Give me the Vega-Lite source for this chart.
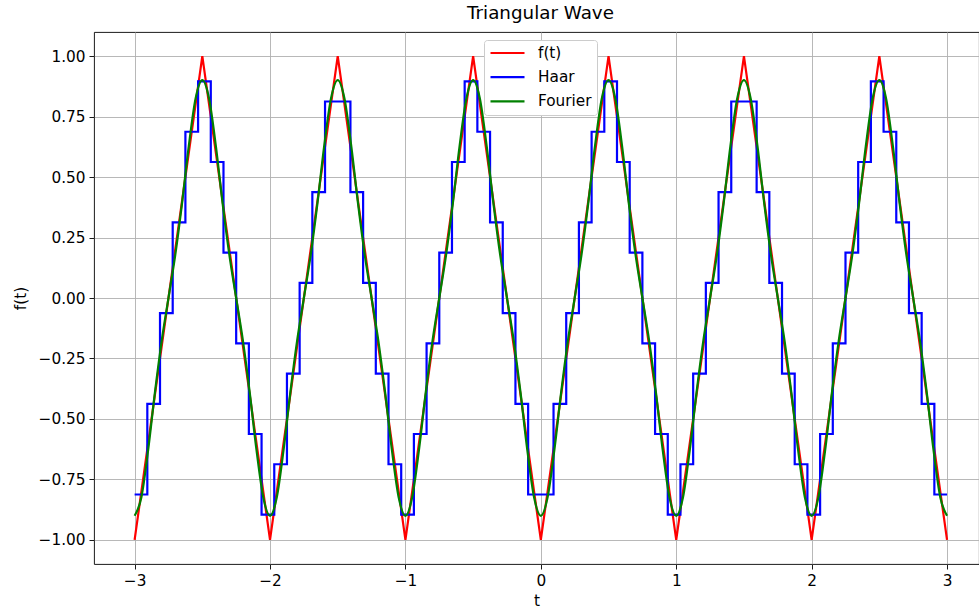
{
  "$schema": "https://vega.github.io/schema/vega-lite/v6.json",
  "autosize": {"type": "none"},
  "padding": {"left": 94, "top": 32, "right": 0, "bottom": 46},
  "width": 885,
  "height": 532,
  "background": "white",
  "title": {"text": "Triangular Wave", "font": "DejaVu Sans", "fontSize": 18.3, "fontWeight": "normal", "color": "black", "offset": 9, "dx": 4},
  "config": {
    "view": {"stroke": "black", "strokeWidth": 0.9},
    "axis": {"domain": false, "grid": true, "gridColor": "#b0b0b0", "gridWidth": 0.9, "tickColor": "black", "tickWidth": 0.9, "tickSize": 5, "labelFont": "DejaVu Sans", "labelFontSize": 15.3, "labelColor": "black", "labelPadding": 4, "titleFont": "DejaVu Sans", "titleFontSize": 15.3, "titleFontWeight": "normal", "titleColor": "black"},
    "legend": {"orient": "none", "legendX": 390, "legendY": 8, "fillColor": "white", "strokeColor": "#cccccc", "cornerRadius": 3, "padding": 5, "symbolType": "stroke", "symbolSize": 1156, "symbolStrokeWidth": 2.2, "labelFont": "DejaVu Sans", "labelFontSize": 15.3, "labelColor": "black", "labelOffset": 12, "clipHeight": 16, "rowPadding": 7.2}
  },
  "datasets": {
    "tri": [
      {"t": -3, "y": -1}, {"t": -2.5, "y": 1}, {"t": -2, "y": -1}, {"t": -1.5, "y": 1}, {"t": -1, "y": -1}, {"t": -0.5, "y": 1}, {"t": 0, "y": -1}, {"t": 0.5, "y": 1}, {"t": 1, "y": -1}, {"t": 1.5, "y": 1}, {"t": 2, "y": -1}, {"t": 2.5, "y": 1}, {"t": 3, "y": -1}
    ],
    "haar": [
      {"t": -3, "y": -0.8125}, {"t": -2.90625, "y": -0.4375}, {"t": -2.8125, "y": -0.0625}, {"t": -2.71875, "y": 0.3125}, {"t": -2.625, "y": 0.6875}, {"t": -2.53125, "y": 0.8958}, {"t": -2.4375, "y": 0.5625}, {"t": -2.34375, "y": 0.1875}, {"t": -2.25, "y": -0.1875}, {"t": -2.15625, "y": -0.5625}, {"t": -2.0625, "y": -0.8958}, {"t": -1.96875, "y": -0.6875}, {"t": -1.875, "y": -0.3125}, {"t": -1.78125, "y": 0.0625}, {"t": -1.6875, "y": 0.4375}, {"t": -1.59375, "y": 0.8125}, {"t": -1.5, "y": 0.8125}, {"t": -1.40625, "y": 0.4375}, {"t": -1.3125, "y": 0.0625}, {"t": -1.21875, "y": -0.3125}, {"t": -1.125, "y": -0.6875}, {"t": -1.03125, "y": -0.8958}, {"t": -0.9375, "y": -0.5625}, {"t": -0.84375, "y": -0.1875}, {"t": -0.75, "y": 0.1875}, {"t": -0.65625, "y": 0.5625}, {"t": -0.5625, "y": 0.8958}, {"t": -0.46875, "y": 0.6875}, {"t": -0.375, "y": 0.3125}, {"t": -0.28125, "y": -0.0625}, {"t": -0.1875, "y": -0.4375}, {"t": -0.09375, "y": -0.8125},
      {"t": 0, "y": -0.8125}, {"t": 0.09375, "y": -0.4375}, {"t": 0.1875, "y": -0.0625}, {"t": 0.28125, "y": 0.3125}, {"t": 0.375, "y": 0.6875}, {"t": 0.46875, "y": 0.8958}, {"t": 0.5625, "y": 0.5625}, {"t": 0.65625, "y": 0.1875}, {"t": 0.75, "y": -0.1875}, {"t": 0.84375, "y": -0.5625}, {"t": 0.9375, "y": -0.8958}, {"t": 1.03125, "y": -0.6875}, {"t": 1.125, "y": -0.3125}, {"t": 1.21875, "y": 0.0625}, {"t": 1.3125, "y": 0.4375}, {"t": 1.40625, "y": 0.8125}, {"t": 1.5, "y": 0.8125}, {"t": 1.59375, "y": 0.4375}, {"t": 1.6875, "y": 0.0625}, {"t": 1.78125, "y": -0.3125}, {"t": 1.875, "y": -0.6875}, {"t": 1.96875, "y": -0.8958}, {"t": 2.0625, "y": -0.5625}, {"t": 2.15625, "y": -0.1875}, {"t": 2.25, "y": 0.1875}, {"t": 2.34375, "y": 0.5625}, {"t": 2.4375, "y": 0.8958}, {"t": 2.53125, "y": 0.6875}, {"t": 2.625, "y": 0.3125}, {"t": 2.71875, "y": -0.0625}, {"t": 2.8125, "y": -0.4375}, {"t": 2.90625, "y": -0.8125}, {"t": 3, "y": -0.8125}
    ],
    "fourier": [
      {"t": -3, "y": -0.9006}, {"t": -2.95, "y": -0.8238}, {"t": -2.9, "y": -0.6279}, {"t": -2.85, "y": -0.3908}, {"t": -2.8, "y": -0.1776}, {"t": -2.75, "y": 0}, {"t": -2.7, "y": 0.1776}, {"t": -2.65, "y": 0.3908}, {"t": -2.6, "y": 0.6279}, {"t": -2.55, "y": 0.8238}, {"t": -2.5, "y": 0.9006}, {"t": -2.45, "y": 0.8238}, {"t": -2.4, "y": 0.6279}, {"t": -2.35, "y": 0.3908}, {"t": -2.3, "y": 0.1776}, {"t": -2.25, "y": 0}, {"t": -2.2, "y": -0.1776}, {"t": -2.15, "y": -0.3908}, {"t": -2.1, "y": -0.6279}, {"t": -2.05, "y": -0.8238},
      {"t": -2, "y": -0.9006}, {"t": -1.95, "y": -0.8238}, {"t": -1.9, "y": -0.6279}, {"t": -1.85, "y": -0.3908}, {"t": -1.8, "y": -0.1776}, {"t": -1.75, "y": 0}, {"t": -1.7, "y": 0.1776}, {"t": -1.65, "y": 0.3908}, {"t": -1.6, "y": 0.6279}, {"t": -1.55, "y": 0.8238}, {"t": -1.5, "y": 0.9006}, {"t": -1.45, "y": 0.8238}, {"t": -1.4, "y": 0.6279}, {"t": -1.35, "y": 0.3908}, {"t": -1.3, "y": 0.1776}, {"t": -1.25, "y": 0}, {"t": -1.2, "y": -0.1776}, {"t": -1.15, "y": -0.3908}, {"t": -1.1, "y": -0.6279}, {"t": -1.05, "y": -0.8238},
      {"t": -1, "y": -0.9006}, {"t": -0.95, "y": -0.8238}, {"t": -0.9, "y": -0.6279}, {"t": -0.85, "y": -0.3908}, {"t": -0.8, "y": -0.1776}, {"t": -0.75, "y": 0}, {"t": -0.7, "y": 0.1776}, {"t": -0.65, "y": 0.3908}, {"t": -0.6, "y": 0.6279}, {"t": -0.55, "y": 0.8238}, {"t": -0.5, "y": 0.9006}, {"t": -0.45, "y": 0.8238}, {"t": -0.4, "y": 0.6279}, {"t": -0.35, "y": 0.3908}, {"t": -0.3, "y": 0.1776}, {"t": -0.25, "y": 0}, {"t": -0.2, "y": -0.1776}, {"t": -0.15, "y": -0.3908}, {"t": -0.1, "y": -0.6279}, {"t": -0.05, "y": -0.8238},
      {"t": 0, "y": -0.9006}, {"t": 0.05, "y": -0.8238}, {"t": 0.1, "y": -0.6279}, {"t": 0.15, "y": -0.3908}, {"t": 0.2, "y": -0.1776}, {"t": 0.25, "y": 0}, {"t": 0.3, "y": 0.1776}, {"t": 0.35, "y": 0.3908}, {"t": 0.4, "y": 0.6279}, {"t": 0.45, "y": 0.8238}, {"t": 0.5, "y": 0.9006}, {"t": 0.55, "y": 0.8238}, {"t": 0.6, "y": 0.6279}, {"t": 0.65, "y": 0.3908}, {"t": 0.7, "y": 0.1776}, {"t": 0.75, "y": 0}, {"t": 0.8, "y": -0.1776}, {"t": 0.85, "y": -0.3908}, {"t": 0.9, "y": -0.6279}, {"t": 0.95, "y": -0.8238},
      {"t": 1, "y": -0.9006}, {"t": 1.05, "y": -0.8238}, {"t": 1.1, "y": -0.6279}, {"t": 1.15, "y": -0.3908}, {"t": 1.2, "y": -0.1776}, {"t": 1.25, "y": 0}, {"t": 1.3, "y": 0.1776}, {"t": 1.35, "y": 0.3908}, {"t": 1.4, "y": 0.6279}, {"t": 1.45, "y": 0.8238}, {"t": 1.5, "y": 0.9006}, {"t": 1.55, "y": 0.8238}, {"t": 1.6, "y": 0.6279}, {"t": 1.65, "y": 0.3908}, {"t": 1.7, "y": 0.1776}, {"t": 1.75, "y": 0}, {"t": 1.8, "y": -0.1776}, {"t": 1.85, "y": -0.3908}, {"t": 1.9, "y": -0.6279}, {"t": 1.95, "y": -0.8238},
      {"t": 2, "y": -0.9006}, {"t": 2.05, "y": -0.8238}, {"t": 2.1, "y": -0.6279}, {"t": 2.15, "y": -0.3908}, {"t": 2.2, "y": -0.1776}, {"t": 2.25, "y": 0}, {"t": 2.3, "y": 0.1776}, {"t": 2.35, "y": 0.3908}, {"t": 2.4, "y": 0.6279}, {"t": 2.45, "y": 0.8238}, {"t": 2.5, "y": 0.9006}, {"t": 2.55, "y": 0.8238}, {"t": 2.6, "y": 0.6279}, {"t": 2.65, "y": 0.3908}, {"t": 2.7, "y": 0.1776}, {"t": 2.75, "y": 0}, {"t": 2.8, "y": -0.1776}, {"t": 2.85, "y": -0.3908}, {"t": 2.9, "y": -0.6279}, {"t": 2.95, "y": -0.8238},
      {"t": 3, "y": -0.9006}
    ]
  },
  "encoding": {
    "x": {"field": "t", "type": "quantitative", "title": "t", "scale": {"domain": [-3.3, 3.236], "nice": false, "zero": false}, "axis": {"values": [-3, -2, -1, 0, 1, 2, 3], "format": "d", "titlePadding": 5}},
    "y": {"field": "y", "type": "quantitative", "title": "f(t)", "scale": {"domain": [-1.1, 1.1], "nice": false, "zero": false}, "axis": {"values": [-1, -0.75, -0.5, -0.25, 0, 0.25, 0.5, 0.75, 1], "format": ".2f", "titlePadding": 10}}
  },
  "layer": [
    {
      "data": {"name": "tri"},
      "mark": {"type": "line", "strokeWidth": 2.2, "clip": true},
      "encoding": {"color": {"datum": "f(t)", "type": "nominal", "scale": {"domain": ["f(t)", "Haar", "Fourier"], "range": ["#ff0000", "#0000ff", "#008000"]}, "legend": {"title": null}}}
    },
    {
      "data": {"name": "haar"},
      "mark": {"type": "line", "strokeWidth": 2.2, "interpolate": "step-after", "clip": true},
      "encoding": {"color": {"datum": "Haar", "type": "nominal"}}
    },
    {
      "data": {"name": "fourier"},
      "mark": {"type": "line", "strokeWidth": 2.2, "interpolate": "monotone", "clip": true},
      "encoding": {"color": {"datum": "Fourier", "type": "nominal"}}
    }
  ]
}
